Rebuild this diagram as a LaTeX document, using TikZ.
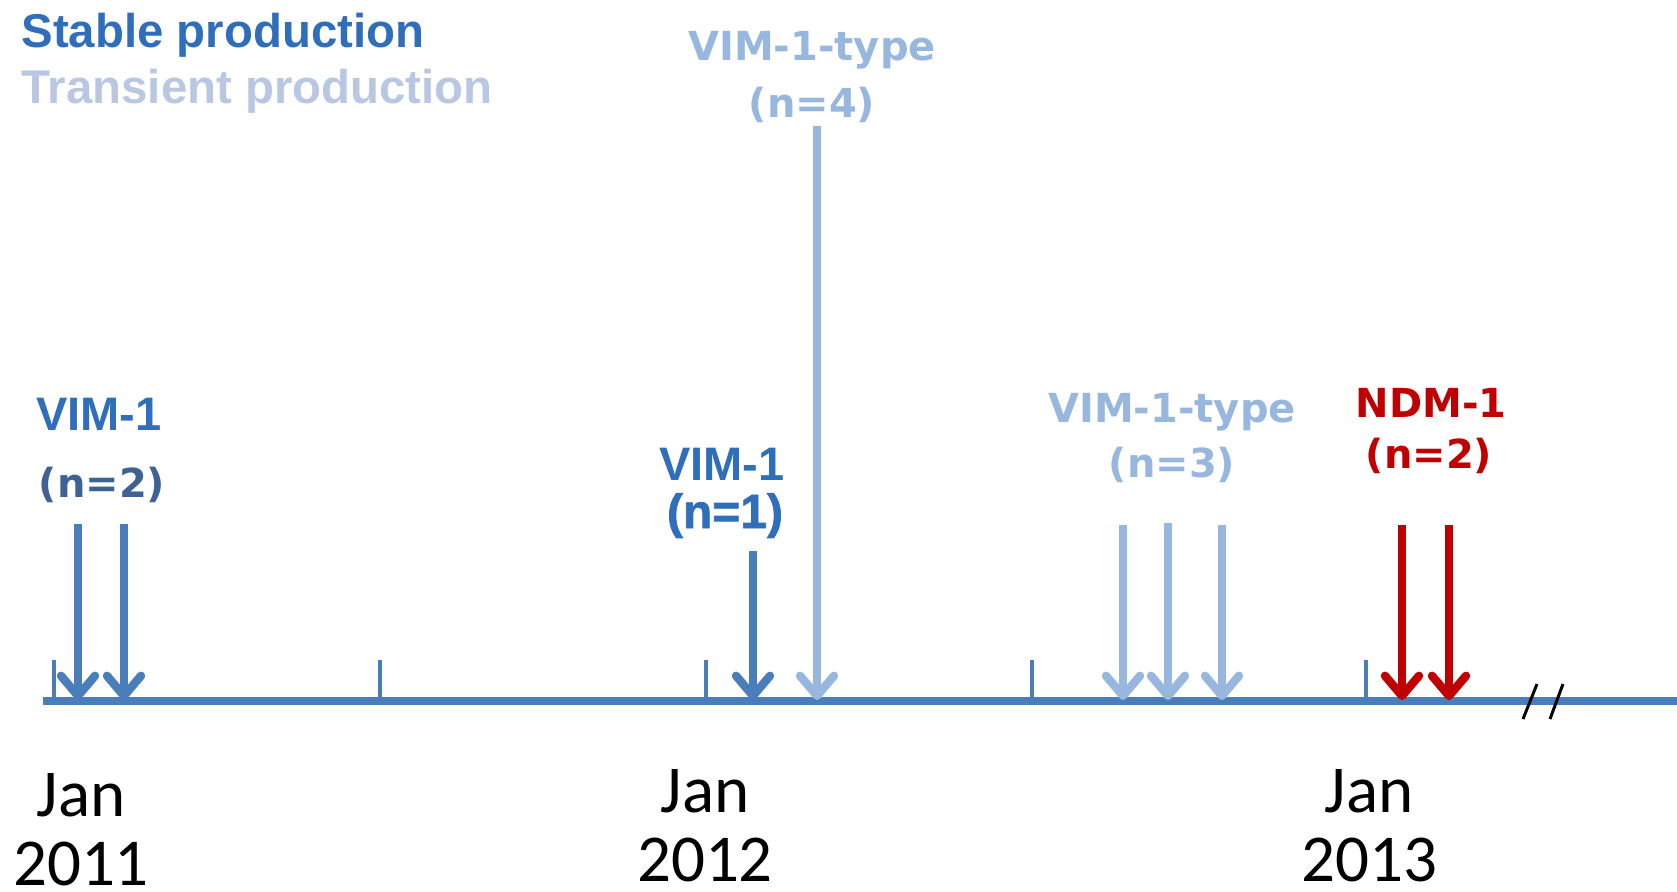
\documentclass[tikz,border=0pt]{standalone}
\usepackage{fontspec}
\setmainfont{Liberation Sans}
\newfontfamily\verdfont{DejaVu Sans}
\newfontfamily\calfont{Carlito}
\newfontface\heavyfont[FakeBold=1.5]{Liberation Sans Bold}
\usepackage{tikz}
\usetikzlibrary{arrows.meta}
\definecolor{stabletext}{RGB}{47,110,186}
\definecolor{transtext}{RGB}{185,199,226}
\definecolor{stableline}{RGB}{74,126,187}
\definecolor{transline}{RGB}{151,183,222}
\definecolor{darkcount}{RGB}{62,98,145}
\definecolor{ndmred}{RGB}{192,0,0}
\newcommand*{\Hit}[4]{\coordinate (#1t) at (#2,#3); \coordinate (#1b) at (#2,700);
  \draw[#4] (#1t) -- (#1b);}
\newcommand*{\Stamp}[3]{\draw (#2,#3) node[datetext] (jan#1) {Jan};
  \draw (#2,#3+69) node[datetext] (yr#1) {20#1};}

\begin{document}
\begin{tikzpicture}[x=0.5pt,y=-0.5pt,
    every node/.style={inner sep=0pt,anchor=base},
    hit/.style={line width=4.2pt,-{Straight Barb[length=10pt,width=17pt,round]}},
    stablehit/.style={hit,draw=stableline},
    transhit/.style={hit,draw=transline},
    ndmhit/.style={hit,draw=ndmred},
    legend/.style={anchor=base west,font=\fontsize{23.7}{28}\selectfont\bfseries},
    arialbl/.style={text=stabletext,font=\fontsize{23.5}{28}\selectfont\bfseries},
    verdlbl/.style={font=\verdfont\fontsize{20}{24}\selectfont\bfseries},
    datetext/.style={text depth=0pt,font=\calfont\fontsize{33.5}{38}\selectfont}]
    \useasboundingbox (0,0) rectangle (1677,891);
    \draw (21,47) node[legend,text=stabletext] (stable) {Stable production};
    \draw (21,103) node[legend,text=transtext] (trans) {Transient production};
    % time axis
    \draw[stableline,line width=4.2pt] (43,701) coordinate (axl) -- (1677,701) coordinate (axr);
    \foreach \x in {54,380,706,1032,1366}
      \draw[stableline,line width=1.6pt] (\x,660) -- (\x,701);
    \draw[line width=1.5pt] (1523,719) -- (1537,684);
    \draw[line width=1.5pt] (1550,719) -- (1563,684);
    % arrows
    \Hit{a}{78}{524}{stablehit}
    \Hit{b}{124}{524}{stablehit}
    \Hit{c}{753}{551}{stablehit}
    \Hit{d}{817}{126}{transhit}
    \Hit{e}{1123}{525}{transhit}
    \Hit{f}{1168}{523}{transhit}
    \Hit{g}{1222}{525}{transhit}
    \Hit{h}{1402}{525}{ndmhit}
    \Hit{i}{1449}{525}{ndmhit}
    % labels
    \draw (99,430) node[arialbl] (vimA) {VIM-1};
    \draw (102,497) node[verdlbl,text=darkcount] (nA) {(n=2)};
    \draw (722,480) node[arialbl] (vimB) {VIM-1};
    \draw (725,528) node[text=stabletext,font=\heavyfont\fontsize{24}{28}\selectfont] (nB) {(n=1)};
    \draw (812,60) node[verdlbl,text=transline] (typeA) {VIM-1-type};
    \draw (812,117) node[verdlbl,text=transline] (nC) {(n=4)};
    \draw (1172,422) node[verdlbl,text=transline] (typeB) {VIM-1-type};
    \draw (1172,477) node[verdlbl,text=transline] (nD) {(n=3)};
    \draw (1431,417) node[verdlbl,text=ndmred] (ndm) {NDM-1};
    \draw (1429,468) node[verdlbl,text=ndmred] (nE) {(n=2)};
    % dates
    \Stamp{11}{81}{816}
    \Stamp{12}{705}{812}
    \Stamp{13}{1369}{812}
  \end{tikzpicture}
\end{document}
